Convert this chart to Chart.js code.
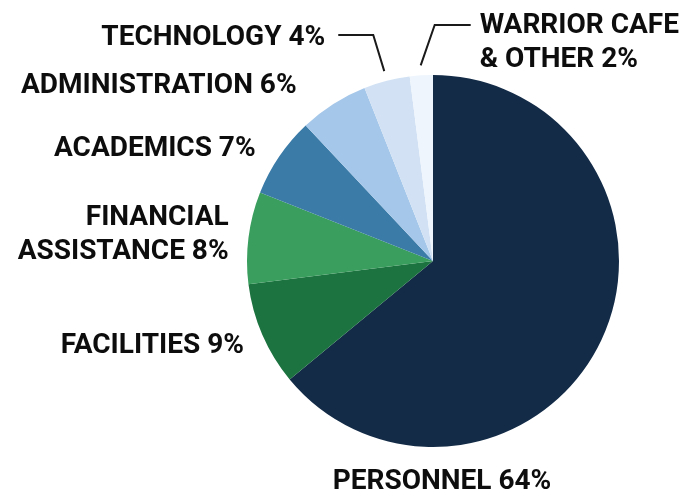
<!DOCTYPE html>
<html>
<head>
<meta charset="utf-8">
<script src="https://cdn.jsdelivr.net/npm/chart.js"></script>
<style>
  html, body { margin: 0; padding: 0; background: #fff; }
  #wrap { width: 680px; height: 494px; position: relative; }
</style>
</head>
<body>
<div id="wrap"><canvas id="chart" width="680" height="494"></canvas></div>
<script>
// budget split, clockwise from 12 o'clock
const categories = ['PERSONNEL', 'FACILITIES', 'FINANCIAL ASSISTANCE', 'ACADEMICS', 'ADMINISTRATION', 'TECHNOLOGY', 'WARRIOR CAFE & OTHER'];
const shares = [64, 9, 8, 7, 6, 4, 2];
// how each label is broken into lines
const labelLines = [
    ['PERSONNEL 64%'],
    ['FACILITIES 9%'],
    ['FINANCIAL', 'ASSISTANCE 8%'],
    ['ACADEMICS 7%'],
    ['ADMINISTRATION 6%'],
    ['TECHNOLOGY 4%'],
    ['WARRIOR CAFE', '& OTHER 2%']
];
const sliceColors = ['#132b47', '#1d7340', '#3a9e5e', '#3a7ba8', '#a5c7e9', '#d2e2f4', '#eef5fc'];

// draws the outside labels (and the two leader lines up top)
const outsideLabels = {
    id: 'outsideLabels',
    afterDraw(chart) {
        const ctx = chart.ctx;
        const arcs = chart.getDatasetMeta(0).data;
        ctx.save();
        ctx.font = 'bold 28px Roboto';
        ctx.fillStyle = '#0d0d0d';
        ctx.textBaseline = 'alphabetic';
        const lh = 34;
        const capHalf = 10;

        arcs.forEach(function (arc, i) {
            const p = arc.getProps(['x', 'y', 'startAngle', 'endAngle', 'outerRadius'], true);
            const mid = (p.startAngle + p.endAngle) / 2;
            const dx = Math.cos(mid), dy = Math.sin(mid);
            const lines = labelLines[i];
            let x, y, align;

            if (i === 0) {
                // big slice: label under the pie
                x = p.x + 9;
                y = p.y + p.outerRadius + 42;
                align = 'center';
            } else if (i === 5 || i === 6) {
                // thin top slices get a leader line
                const ex = p.x + dx * (p.outerRadius + 10);
                const ey = p.y + dy * (p.outerRadius + 10);
                const top = p.y - p.outerRadius;
                const lineY = i === 5 ? top - 40 : top - 50;
                const elbowX = i === 5 ? ex - 11 : ex + 14;
                const endX = i === 5 ? elbowX - 35 : elbowX + 36;
                ctx.strokeStyle = '#1a1a1a';
                ctx.lineWidth = 2;
                ctx.beginPath();
                ctx.moveTo(ex, ey);
                ctx.lineTo(elbowX, lineY);
                ctx.lineTo(endX, lineY);
                ctx.stroke();
                if (i === 5) {
                    x = endX - 13; y = lineY + 10; align = 'right';
                } else {
                    x = endX + 9; y = lineY + 8; align = 'left';
                }
            } else {
                const r = p.outerRadius + 20;
                x = p.x + dx * r;
                y = p.y + dy * r + capHalf - (lines.length - 1) * lh / 2;
                align = 'right';
                if (i === 4) { x -= 26; y -= 4; }
                if (i === 3) { x -= 7; y += 1; }
                if (i === 2) { y -= 3; }
            }

            ctx.textAlign = align;
            lines.forEach(function (t, k) {
                ctx.fillText(t, x, y + k * lh);
            });
        });
        ctx.restore();
    }
};

new Chart(document.getElementById('chart'), {
    type: 'pie',
    data: {
        labels: categories,
        datasets: [{
            data: shares,
            backgroundColor: sliceColors,
            borderWidth: 0
        }]
    },
    options: {
        responsive: false,
        animation: false,
        layout: { padding: { left: 247, right: 61, top: 75, bottom: 47 } },
        plugins: {
            legend: { display: false },
            tooltip: { enabled: false }
        }
    },
    plugins: [outsideLabels]
});
</script>
</body>
</html>
